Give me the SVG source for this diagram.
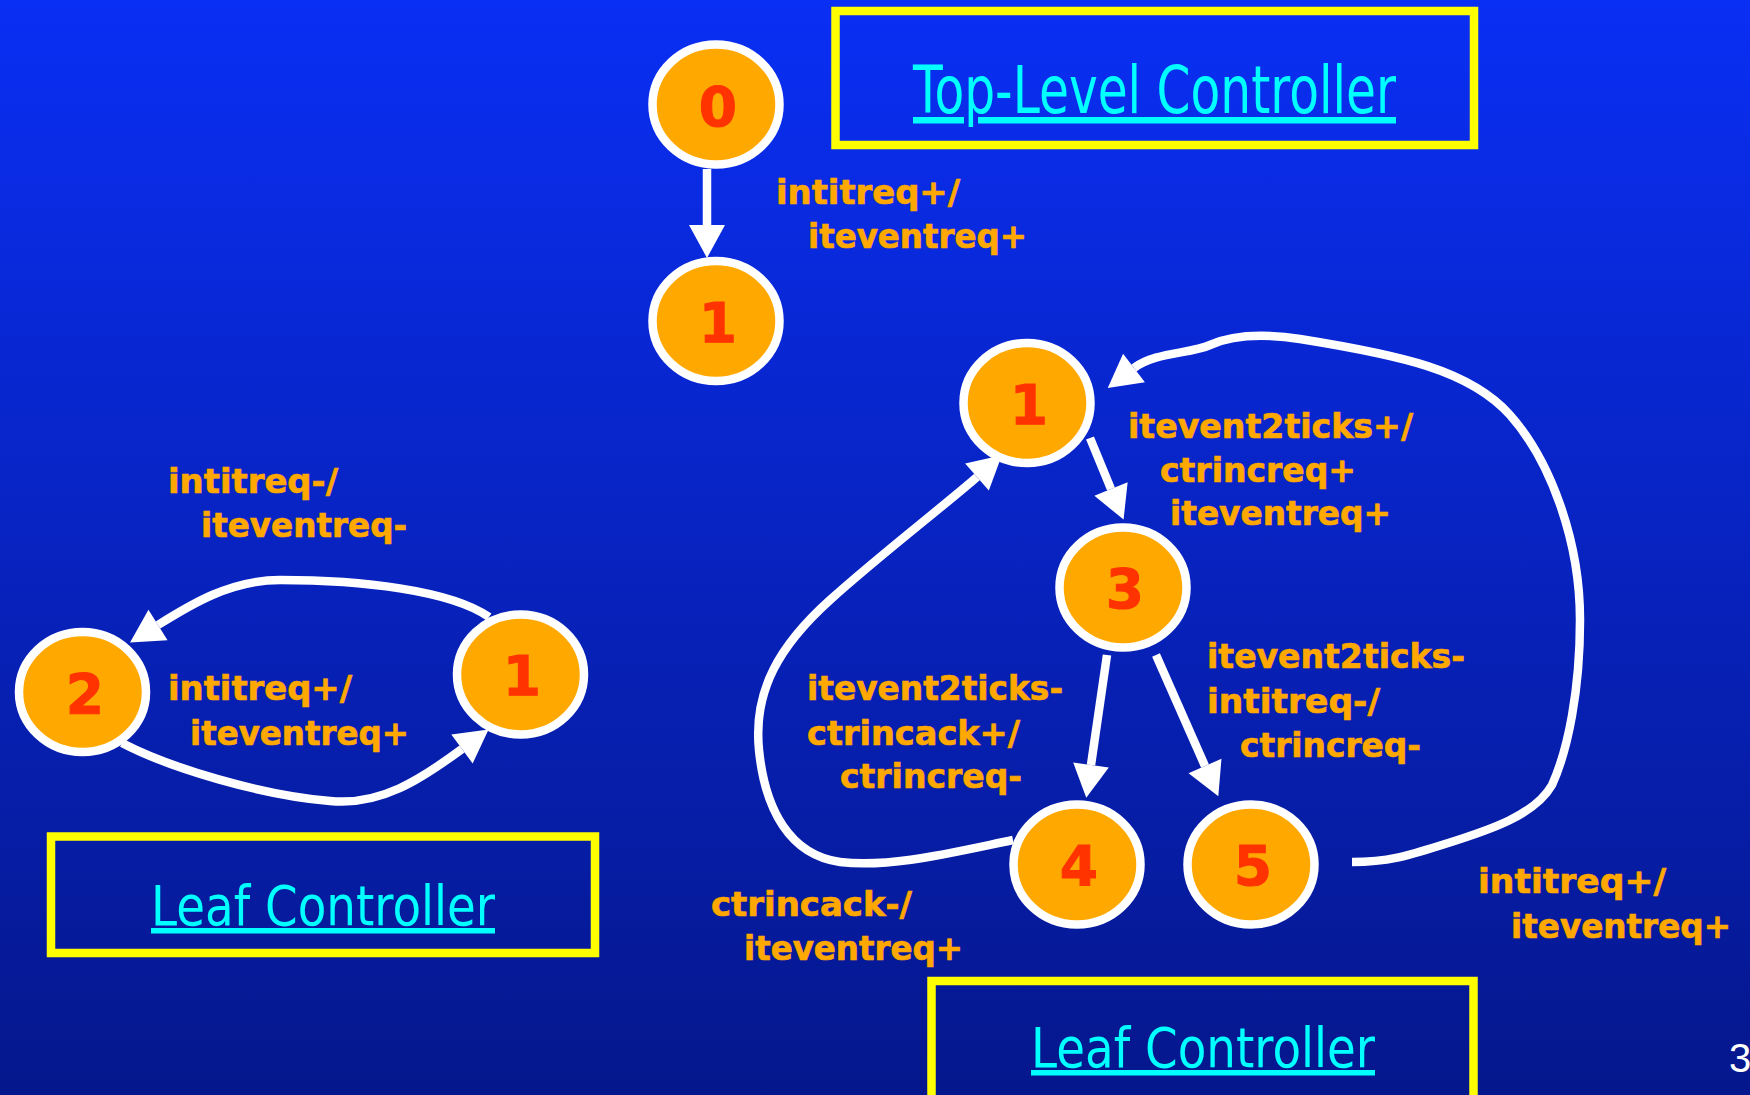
<svg xmlns="http://www.w3.org/2000/svg" width="1750" height="1095" viewBox="0 0 1750 1095">
  <defs>
    <linearGradient id="bg" x1="0" y1="0" x2="0" y2="1">
      <stop offset="0" stop-color="#0a2ff4"/>
      <stop offset="1" stop-color="#05178c"/>
    </linearGradient>
    <marker id="arrow" markerUnits="userSpaceOnUse" viewBox="0 -18 34 36" markerWidth="34" markerHeight="36" refX="0" refY="0" orient="auto" overflow="visible">
      <path d="M0,-18 L33,0 L0,18 z" fill="#ffffff"/>
    </marker>
  </defs>
  <style>
    .edge { fill: none; stroke: #ffffff; stroke-width: 8.5; marker-end: url(#arrow); }
    .state ellipse { fill: #ffa800; stroke: #ffffff; stroke-width: 8.5; }
    .state text { font-family: "DejaVu Sans", "Liberation Sans", sans-serif; font-weight: bold; font-size: 55px; fill: #ff3300; stroke: #ff3300; stroke-width: 1; text-anchor: middle; }
    .lbl { font-family: "DejaVu Sans", "Liberation Sans", sans-serif; font-weight: bold; font-size: 34px; fill: #ffa800; stroke: #ffa800; stroke-width: 0.7; }
    .title { font-family: "DejaVu Sans", "Liberation Sans", sans-serif; fill: #00ffff; text-decoration: underline; }
    .frame { fill: none; stroke: #ffff00; stroke-width: 8.5; }
  </style>

  <!-- background -->
  <rect x="0" y="0" width="1750" height="1095" fill="url(#bg)"/>

  <!-- controller title frames -->
  <g id="title-top">
    <rect class="frame" x="835.5" y="11" width="638.5" height="134"/>
    <text class="title" x="913" y="113" font-size="65" textLength="483" lengthAdjust="spacingAndGlyphs">Top-Level Controller</text>
  </g>
  <g id="title-leaf-left">
    <rect class="frame" x="51" y="836.5" width="544" height="116.5"/>
    <text class="title" x="151" y="925" font-size="55" textLength="344" lengthAdjust="spacingAndGlyphs">Leaf Controller</text>
  </g>
  <g id="title-leaf-right">
    <rect class="frame" x="931.5" y="981" width="542" height="140"/>
    <text class="title" x="1031" y="1067" font-size="55" textLength="344" lengthAdjust="spacingAndGlyphs">Leaf Controller</text>
  </g>

  <!-- transitions -->
  <g id="connectors">
    <g id="e-top-0-1">
      <path class="edge" d="M707 169 L707 225"/>
      <text class="lbl" x="776" y="204" textLength="184" lengthAdjust="spacingAndGlyphs">intitreq+/</text>
      <text class="lbl" x="808" y="248" textLength="219" lengthAdjust="spacingAndGlyphs">iteventreq+</text>
    </g>
    <g id="e-left-1-2">
      <path class="edge" d="M489 617 C450 590 360 580 280 580 C230 580 190 605 158 625"/>
      <text class="lbl" x="168" y="493" textLength="170" lengthAdjust="spacingAndGlyphs">intitreq-/</text>
      <text class="lbl" x="201" y="537" textLength="206" lengthAdjust="spacingAndGlyphs">iteventreq-</text>
    </g>
    <g id="e-left-2-1">
      <path class="edge" d="M122 743 C170 768 260 795 330 801 C380 806 420 780 462 749"/>
      <text class="lbl" x="168" y="700" textLength="184" lengthAdjust="spacingAndGlyphs">intitreq+/</text>
      <text class="lbl" x="190" y="745" textLength="219" lengthAdjust="spacingAndGlyphs">iteventreq+</text>
    </g>
    <g id="e-right-1-3">
      <path class="edge" d="M1090 438 L1111 489"/>
      <text class="lbl" x="1128" y="438" textLength="285" lengthAdjust="spacingAndGlyphs">itevent2ticks+/</text>
      <text class="lbl" x="1160" y="482" textLength="196" lengthAdjust="spacingAndGlyphs">ctrincreq+</text>
      <text class="lbl" x="1170" y="525" textLength="221" lengthAdjust="spacingAndGlyphs">iteventreq+</text>
    </g>
    <g id="e-right-3-4">
      <path class="edge" d="M1107 655 L1091 765"/>
      <text class="lbl" x="807" y="700" textLength="256" lengthAdjust="spacingAndGlyphs">itevent2ticks-</text>
      <text class="lbl" x="807" y="745" textLength="213" lengthAdjust="spacingAndGlyphs">ctrincack+/</text>
      <text class="lbl" x="840" y="788" textLength="182" lengthAdjust="spacingAndGlyphs">ctrincreq-</text>
    </g>
    <g id="e-right-3-5">
      <path class="edge" d="M1156 655 L1205 766"/>
      <text class="lbl" x="1207" y="668" textLength="258" lengthAdjust="spacingAndGlyphs">itevent2ticks-</text>
      <text class="lbl" x="1207" y="713" textLength="173" lengthAdjust="spacingAndGlyphs">intitreq-/</text>
      <text class="lbl" x="1240" y="757" textLength="181" lengthAdjust="spacingAndGlyphs">ctrincreq-</text>
    </g>
    <g id="e-right-4-1">
      <path class="edge" d="M1013 840 C950 853 890 868 840 862 C790 855 765 810 759 750 C753 690 780 645 830 600 C880 555 945 505 977 477"/>
      <text class="lbl" x="711" y="916" textLength="201" lengthAdjust="spacingAndGlyphs">ctrincack-/</text>
      <text class="lbl" x="744" y="960" textLength="219" lengthAdjust="spacingAndGlyphs">iteventreq+</text>
    </g>
    <g id="e-right-5-1">
      <path class="edge" d="M1352 862 C1390 862 1410 855 1445 844 C1490 830 1535 815 1552 785 C1568 750 1580 690 1580 620 C1580 540 1550 460 1510 415 C1470 370 1400 355 1300 339 C1260 333 1230 336 1210 345 C1190 354 1155 352 1134 368"/>
      <text class="lbl" x="1478" y="893" textLength="188" lengthAdjust="spacingAndGlyphs">intitreq+/</text>
      <text class="lbl" x="1511" y="938" textLength="220" lengthAdjust="spacingAndGlyphs">iteventreq+</text>
    </g>
  </g>

  <!-- states: top-level controller -->
  <g id="top-0" class="state">
    <ellipse cx="716" cy="104.5" rx="63.5" ry="60"/>
    <text x="718" y="126">0</text>
  </g>
  <g id="top-1" class="state">
    <ellipse cx="716" cy="321" rx="63.5" ry="60"/>
    <text x="718" y="342">1</text>
  </g>

  <!-- states: leaf controller (left) -->
  <g id="leaf-a-2" class="state">
    <ellipse cx="82.5" cy="692" rx="63.5" ry="60"/>
    <text x="85" y="713">2</text>
  </g>
  <g id="leaf-a-1" class="state">
    <ellipse cx="520.5" cy="674.5" rx="63.5" ry="60"/>
    <text x="522" y="695">1</text>
  </g>

  <!-- states: leaf controller (right) -->
  <g id="leaf-b-1" class="state">
    <ellipse cx="1027" cy="403" rx="63.5" ry="60"/>
    <text x="1029" y="424">1</text>
  </g>
  <g id="leaf-b-3" class="state">
    <ellipse cx="1123" cy="587.5" rx="63.5" ry="60"/>
    <text x="1125" y="608">3</text>
  </g>
  <g id="leaf-b-4" class="state">
    <ellipse cx="1077" cy="864.5" rx="63.5" ry="60"/>
    <text x="1079" y="885">4</text>
  </g>
  <g id="leaf-b-5" class="state">
    <ellipse cx="1251" cy="864.5" rx="63.5" ry="60"/>
    <text x="1253" y="885">5</text>
  </g>

  <!-- page number -->
  <text x="1729" y="1072" font-family="Liberation Sans, Arial, sans-serif" font-size="40" fill="#ffffff">3</text>
</svg>
